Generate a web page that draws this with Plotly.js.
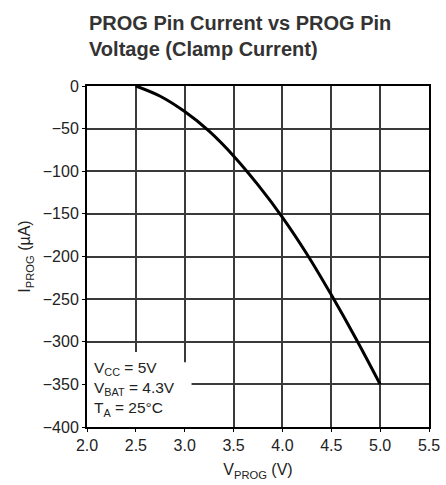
<!DOCTYPE html>
<html>
<head>
<meta charset="utf-8">
<script src="https://cdn.plot.ly/plotly-3.0.1.min.js"></script>
<style>html,body{margin:0;padding:0;background:#fff;}#chart{width:446px;height:485px;}</style>
</head>
<body>
<div id="chart"></div>
<script>
var vProg = [2.5, 2.75, 3.0, 3.25, 3.5, 3.75, 4.0, 4.25, 4.5, 4.75, 5.0];
var iProg = [0, -12, -30, -53, -82, -116, -154, -197, -245, -296, -350];
var xTicks = [2.0, 2.5, 3.0, 3.5, 4.0, 4.5, 5.0, 5.5];
var xTickLabels = ['2.0', '2.5', '3.0', '3.5', '4.0', '4.5', '5.0', '5.5'];
var yTicks = [0, -50, -100, -150, -200, -250, -300, -350, -400];
var yTickLabels = ['0', '\u221250', '\u2212100', '\u2212150', '\u2212200', '\u2212250', '\u2212300', '\u2212350', '\u2212400'];
var titleLines = ['PROG Pin Current vs PROG Pin', 'Voltage (Clamp Current)'];

var FONT = '"Liberation Sans", Arial, Helvetica, sans-serif';
var PLOT_TOP = 86, PLOT_BOTTOM = 427, PLOT_H = PLOT_BOTTOM - PLOT_TOP;
function pyToPaper(py) { return (PLOT_BOTTOM - py) / PLOT_H; }

var trace = {
  x: vProg, y: iProg, type: 'scatter', mode: 'lines',
  line: {color: '#000', width: 3, shape: 'spline'},
  hoverinfo: 'none'
};

var layout = {
  width: 446, height: 485,
  margin: {l: 87, r: 17, t: PLOT_TOP, b: 485 - PLOT_BOTTOM},
  paper_bgcolor: '#fff', plot_bgcolor: '#fff',
  showlegend: false,
  font: {family: FONT, color: '#222', size: 16},
  xaxis: {
    range: [2.0, 5.5], tickvals: xTicks, ticktext: xTickLabels,
    showgrid: true, gridcolor: '#3a3a3a', gridwidth: 2,
    showline: true, linecolor: '#000', linewidth: 2, mirror: true,
    ticks: 'outside', ticklen: 3, tickcolor: '#000', zeroline: false,
    tickfont: {family: FONT, size: 16, color: '#222'},
    title: {text: 'V<sub>PROG</sub> (V)', font: {family: FONT, size: 16, color: '#222'}, standoff: 11}
  },
  yaxis: {
    range: [-400, 0], tickvals: yTicks, ticktext: yTickLabels,
    showgrid: true, gridcolor: '#3a3a3a', gridwidth: 2,
    showline: true, linecolor: '#000', linewidth: 2, mirror: true,
    ticks: 'outside', ticklen: 3, tickcolor: '#000', zeroline: false,
    tickfont: {family: FONT, size: 16, color: '#222'},
    title: {text: 'I<sub>PROG</sub> (\u00b5A)', font: {family: FONT, size: 16, color: '#222'}, standoff: 8}
  },
  shapes: [{
    type: 'rect', xref: 'x', yref: 'y', layer: 'between',
    x0: 2.0, x1: 2.56, y0: -400, y1: -312,
    fillcolor: '#fff', line: {width: 0}
  }, {
    type: 'rect', xref: 'x', yref: 'y', layer: 'between',
    x0: 2.0, x1: 3.07, y0: -400, y1: -324,
    fillcolor: '#fff', line: {width: 0}
  }],
  annotations: [{
    xref: 'paper', yref: 'paper', x: 0, y: pyToPaper(23), xanchor: 'left', yanchor: 'middle',
    showarrow: false, text: '<b>' + titleLines[0] + '</b>',
    font: {family: FONT, size: 20, color: '#333'}
  }, {
    xref: 'paper', yref: 'paper', x: 0, y: pyToPaper(49), xanchor: 'left', yanchor: 'middle',
    showarrow: false, text: '<b>' + titleLines[1] + '</b>',
    font: {family: FONT, size: 20, color: '#333'}
  }, {
    xref: 'x', yref: 'y', x: 2.05, y: -393, xanchor: 'left', yanchor: 'bottom',
    align: 'left', showarrow: false,
    text: 'V<sub>CC</sub> = 5V<br>V<sub>BAT</sub> = 4.3V<br>T<sub>A</sub> = 25\u00b0C',
    font: {family: FONT, size: 15.5, color: '#222'}
  }]
};

Plotly.newPlot('chart', [trace], layout, {displayModeBar: false, staticPlot: true});
</script>
</body>
</html>
